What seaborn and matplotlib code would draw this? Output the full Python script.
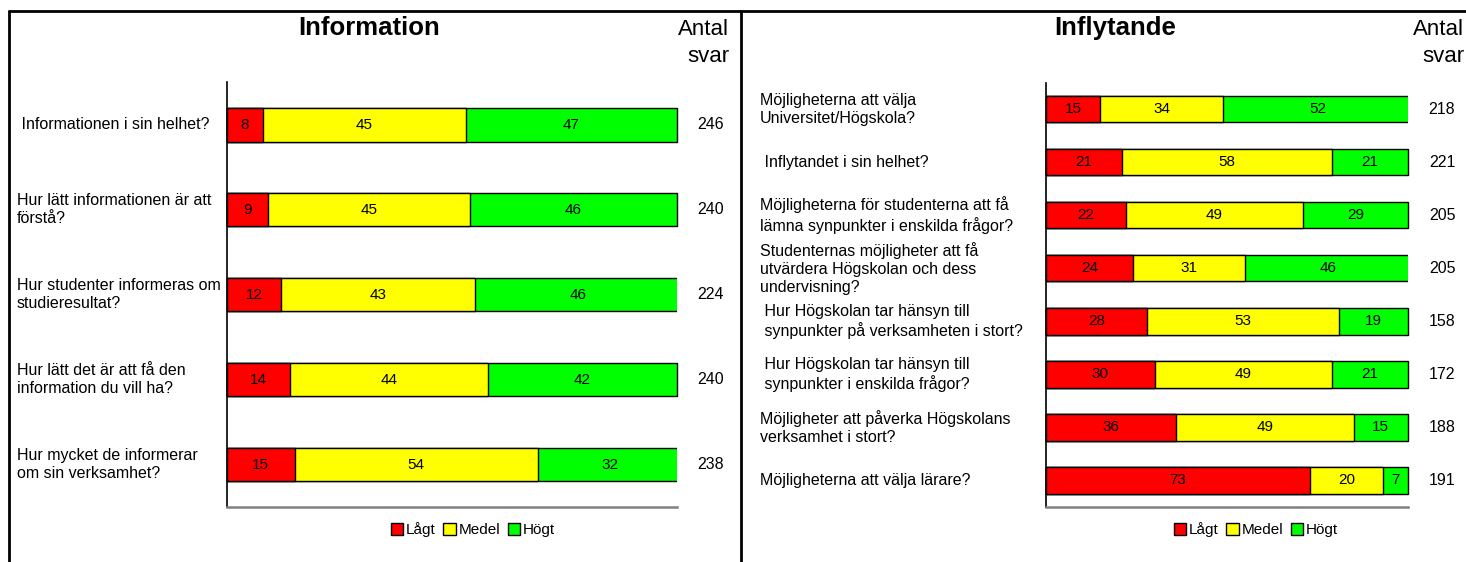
import matplotlib
matplotlib.use("Agg")
import matplotlib.pyplot as plt
import seaborn as sns
import pandas as pd
from matplotlib.patches import Patch
from matplotlib.lines import Line2D
from matplotlib.transforms import blended_transform_factory

# --- Information ---
info_questions = [
    " Informationen i sin helhet?",
    "Hur lätt informationen är att\nförstå?",
    "Hur studenter informeras om\nstudieresultat?",
    "Hur lätt det är att få den\ninformation du vill ha?",
    "Hur mycket de informerar\nom sin verksamhet?",
]
info_lagt = [8, 9, 12, 14, 15]
info_medel = [45, 45, 43, 44, 54]
info_hogt = [47, 46, 46, 42, 32]
info_antal = [246, 240, 224, 240, 238]

# --- Inflytande ---
infl_questions = [
    "Möjligheterna att välja\nUniversitet/Högskola?",
    " Inflytandet i sin helhet?",
    "Möjligheterna för studenterna att få\nlämna synpunkter i enskilda frågor?",
    "Studenternas möjligheter att få\nutvärdera Högskolan och dess\nundervisning?",
    " Hur Högskolan tar hänsyn till\n synpunkter på verksamheten i stort?",
    " Hur Högskolan tar hänsyn till\n synpunkter i enskilda frågor?",
    "Möjligheter att påverka Högskolans\nverksamhet i stort?",
    "Möjligheterna att välja lärare?",
]
infl_lagt = [15, 21, 22, 24, 28, 30, 36, 73]
infl_medel = [34, 58, 49, 31, 53, 49, 49, 20]
infl_hogt = [52, 21, 29, 46, 19, 21, 15, 7]
infl_antal = [218, 221, 205, 205, 158, 172, 188, 191]

levels = ["Lågt", "Medel", "Högt"]
level_colors = ["#FF0000", "#FFFF00", "#00FF00"]
count_header = "Antal\nsvar"

sns.set_style("white")
plt.rcParams["font.family"] = ["Liberation Sans", "DejaVu Sans"]
plt.rcParams["text.color"] = "black"

W, H = 1466, 562
fig = plt.figure(figsize=(W / 100, H / 100), dpi=100)


def fx(px):
    return px / W


def fy(py):
    return 1 - py / H


def draw_panel(rect, title, title_x, questions, lagt, medel, hogt, antal,
               bar_width, label_x, count_x, header_x, legend_x):
    ax = fig.add_axes(rect)
    df = pd.DataFrame({"fraga": questions, "Lågt": lagt,
                       "Medel": medel, "Högt": hogt})
    df["slut_lagt"] = df["Lågt"]
    df["slut_medel"] = df["Lågt"] + df["Medel"]
    df["slut_hogt"] = df["slut_medel"] + df["Högt"]

    # stacked bars: widest (cumulative) first, narrower ones on top
    for col, color in [("slut_hogt", level_colors[2]),
                       ("slut_medel", level_colors[1]),
                       ("slut_lagt", level_colors[0])]:
        sns.barplot(data=df, x=col, y="fraga", orient="h", color=color,
                    saturation=1, width=bar_width, edgecolor="black",
                    linewidth=1, errorbar=None, ax=ax)

    n = len(questions)
    ax.set_xlim(0, 100)
    ax.set_ylim(n - 0.5, -0.5)
    # keep the outline of bars that end exactly at 100 %
    for p in ax.patches:
        if p.get_x() + p.get_width() <= 100:
            p.set_clip_on(False)
    ax.set_xlabel("")
    ax.set_ylabel("")
    ax.set_xticks([])
    ax.set_yticks([])
    for s in ["top", "right"]:
        ax.spines[s].set_visible(False)
    ax.spines["left"].set_color("black")
    ax.spines["left"].set_linewidth(1.2)
    ax.spines["bottom"].set_color("#808080")
    ax.spines["bottom"].set_linewidth(1.8)

    # segment values
    for i, row in df.iterrows():
        start = 0
        for lev in levels:
            v = row[lev]
            ax.text(start + v / 2, i, f"{v}", ha="center", va="center",
                    fontsize=11, color="black")
            start += v

    trans = blended_transform_factory(fig.transFigure, ax.transData)
    for i, q in enumerate(questions):
        ax.text(fx(label_x), i, q, transform=trans, ha="left", va="center",
                fontsize=11.5, linespacing=1.25)
        ax.text(fx(count_x), i, f"{antal[i]}", transform=trans,
                ha="center", va="center", fontsize=11.5)

    fig.text(fx(title_x), fy(28), title, ha="center", va="center",
             fontsize=18.5, fontweight="bold")
    fig.text(fx(header_x), fy(43), count_header, ha="right", va="center",
             fontsize=16, multialignment="right", linespacing=1.4)

    handles = [Patch(facecolor=c, edgecolor="black", linewidth=1, label=l)
               for l, c in zip(levels, level_colors)]
    fig.legend(handles=handles, loc="center",
               bbox_to_anchor=(fx(legend_x), fy(530)), ncol=3,
               frameon=False, fontsize=11, handlelength=0.8,
               handleheight=0.8, handletextpad=0.2, columnspacing=0.5,
               borderpad=0)
    return ax


draw_panel([fx(227), fy(507), fx(677) - fx(227), fy(82.5) - fy(507)],
           "Information", 369, info_questions, info_lagt, info_medel,
           info_hogt, info_antal, bar_width=0.39, label_x=17, count_x=711,
           header_x=729, legend_x=473)

draw_panel([fx(1046), fy(507), fx(1408) - fx(1046), fy(82.5) - fy(507)],
           "Inflytande", 1115, infl_questions, infl_lagt, infl_medel,
           infl_hogt, infl_antal, bar_width=0.5, label_x=760, count_x=1442,
           header_x=1464, legend_x=1256)

# panel frames
frame_kw = dict(transform=fig.transFigure, color="black", linewidth=2)
fig.add_artist(Line2D([fx(8.5), 1.0], [fy(11), fy(11)], **frame_kw))
fig.add_artist(Line2D([fx(8.5), fx(8.5)], [fy(11), 0], **frame_kw))
fig.add_artist(Line2D([fx(741), fx(741)], [fy(11), 0], **frame_kw))

fig.savefig("out.png", dpi=100)
